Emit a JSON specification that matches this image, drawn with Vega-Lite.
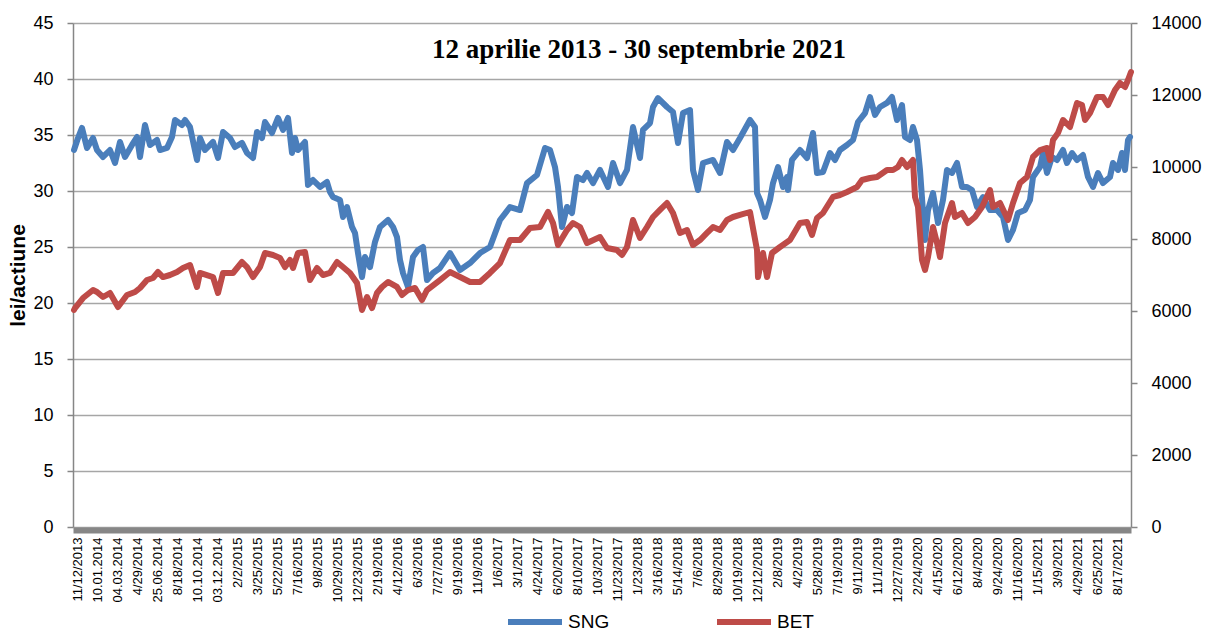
{
  "$schema": "https://vega.github.io/schema/vega-lite/v6.json",
  "width": 1058,
  "height": 504,
  "autosize": {"type": "none"},
  "padding": {"left": 73, "top": 23, "right": 77, "bottom": 107},
  "background": "white",
  "config": {"view": {"stroke": null}, "font": "Liberation Sans"},
  "title": {
    "text": "12 aprilie 2013 - 30 septembrie 2021",
    "font": "Liberation Serif",
    "fontSize": 27,
    "fontWeight": "bold",
    "color": "black",
    "anchor": "middle",
    "frame": "group",
    "orient": "top",
    "offset": 0,
    "dx": 37,
    "dy": 71,
    "baseline": "alphabetic"
  },
  "datasets": {
    "sng": [
      {"t": -0.15, "v": 33.66}, {"t": -0.1, "v": 33.93}, {"t": 0.05, "v": 34.73}, {"t": 0.25, "v": 35.63},
      {"t": 0.5, "v": 33.84}, {"t": 0.8, "v": 34.73}, {"t": 1.0, "v": 33.66}, {"t": 1.3, "v": 33.04},
      {"t": 1.65, "v": 33.66}, {"t": 1.9, "v": 32.5}, {"t": 2.15, "v": 34.38}, {"t": 2.4, "v": 33.04},
      {"t": 2.75, "v": 34.11}, {"t": 3.0, "v": 34.82}, {"t": 3.15, "v": 33.04}, {"t": 3.4, "v": 35.89},
      {"t": 3.65, "v": 34.11}, {"t": 4.0, "v": 34.55}, {"t": 4.15, "v": 33.66}, {"t": 4.5, "v": 33.84},
      {"t": 4.75, "v": 34.82}, {"t": 4.9, "v": 36.34}, {"t": 5.25, "v": 35.89}, {"t": 5.4, "v": 36.34},
      {"t": 5.65, "v": 35.71}, {"t": 6.0, "v": 32.77}, {"t": 6.15, "v": 34.73}, {"t": 6.4, "v": 33.66},
      {"t": 6.8, "v": 34.38}, {"t": 7.05, "v": 32.95}, {"t": 7.3, "v": 35.27}, {"t": 7.65, "v": 34.73},
      {"t": 7.9, "v": 33.93}, {"t": 8.25, "v": 34.29}, {"t": 8.5, "v": 33.39}, {"t": 8.8, "v": 32.95},
      {"t": 9.0, "v": 35.27}, {"t": 9.25, "v": 34.73}, {"t": 9.4, "v": 36.16}, {"t": 9.75, "v": 35.18},
      {"t": 10.05, "v": 36.52}, {"t": 10.3, "v": 35.45}, {"t": 10.55, "v": 36.52}, {"t": 10.75, "v": 33.39},
      {"t": 10.9, "v": 34.73}, {"t": 11.05, "v": 33.66}, {"t": 11.4, "v": 34.38}, {"t": 11.55, "v": 30.54},
      {"t": 11.8, "v": 30.98}, {"t": 12.15, "v": 30.36}, {"t": 12.5, "v": 30.8}, {"t": 12.65, "v": 29.91},
      {"t": 12.8, "v": 29.46}, {"t": 13.15, "v": 29.2}, {"t": 13.3, "v": 27.68}, {"t": 13.5, "v": 28.57},
      {"t": 13.75, "v": 26.79}, {"t": 13.9, "v": 26.25}, {"t": 14.05, "v": 24.46}, {"t": 14.25, "v": 22.32},
      {"t": 14.4, "v": 24.11}, {"t": 14.65, "v": 23.21}, {"t": 14.9, "v": 25.45}, {"t": 15.15, "v": 26.79},
      {"t": 15.55, "v": 27.41}, {"t": 15.8, "v": 26.79}, {"t": 16.0, "v": 25.89}, {"t": 16.15, "v": 23.84},
      {"t": 16.3, "v": 22.68}, {"t": 16.55, "v": 21.43}, {"t": 16.8, "v": 24.11}, {"t": 17.05, "v": 24.73},
      {"t": 17.3, "v": 25.0}, {"t": 17.5, "v": 22.05}, {"t": 17.8, "v": 22.68}, {"t": 18.15, "v": 23.13},
      {"t": 18.65, "v": 24.46}, {"t": 19.15, "v": 22.95}, {"t": 19.65, "v": 23.57}, {"t": 20.15, "v": 24.46},
      {"t": 20.65, "v": 25.0}, {"t": 21.15, "v": 27.41}, {"t": 21.65, "v": 28.57}, {"t": 22.15, "v": 28.3},
      {"t": 22.5, "v": 30.71}, {"t": 23.0, "v": 31.43}, {"t": 23.4, "v": 33.84}, {"t": 23.65, "v": 33.66},
      {"t": 23.9, "v": 32.14}, {"t": 24.05, "v": 30.36}, {"t": 24.25, "v": 26.79}, {"t": 24.5, "v": 28.57},
      {"t": 24.75, "v": 28.04}, {"t": 25.0, "v": 31.25}, {"t": 25.3, "v": 30.98}, {"t": 25.5, "v": 31.61},
      {"t": 25.8, "v": 30.71}, {"t": 26.15, "v": 31.88}, {"t": 26.55, "v": 30.36}, {"t": 26.8, "v": 32.5},
      {"t": 27.15, "v": 30.71}, {"t": 27.5, "v": 31.88}, {"t": 27.8, "v": 35.71}, {"t": 28.15, "v": 32.95},
      {"t": 28.3, "v": 35.45}, {"t": 28.65, "v": 36.07}, {"t": 28.8, "v": 37.5}, {"t": 29.05, "v": 38.3},
      {"t": 29.5, "v": 37.5}, {"t": 29.8, "v": 37.05}, {"t": 30.05, "v": 34.29}, {"t": 30.3, "v": 36.96},
      {"t": 30.65, "v": 37.23}, {"t": 30.8, "v": 31.88}, {"t": 31.05, "v": 30.09}, {"t": 31.3, "v": 32.5},
      {"t": 31.8, "v": 32.77}, {"t": 32.15, "v": 31.61}, {"t": 32.5, "v": 34.38}, {"t": 32.8, "v": 33.66},
      {"t": 33.15, "v": 34.73}, {"t": 33.65, "v": 36.34}, {"t": 33.9, "v": 35.71}, {"t": 34.0, "v": 29.82},
      {"t": 34.15, "v": 29.2}, {"t": 34.4, "v": 27.68}, {"t": 34.65, "v": 29.2}, {"t": 34.8, "v": 30.71},
      {"t": 35.05, "v": 32.14}, {"t": 35.3, "v": 30.36}, {"t": 35.5, "v": 31.25}, {"t": 35.55, "v": 30.09},
      {"t": 35.75, "v": 32.77}, {"t": 36.15, "v": 33.66}, {"t": 36.5, "v": 32.95}, {"t": 36.8, "v": 35.18},
      {"t": 37.0, "v": 31.61}, {"t": 37.3, "v": 31.7}, {"t": 37.65, "v": 33.39}, {"t": 37.9, "v": 32.77},
      {"t": 38.15, "v": 33.66}, {"t": 38.5, "v": 34.11}, {"t": 38.8, "v": 34.55}, {"t": 39.05, "v": 36.16},
      {"t": 39.4, "v": 36.96}, {"t": 39.65, "v": 38.39}, {"t": 39.9, "v": 36.79}, {"t": 40.15, "v": 37.5},
      {"t": 40.5, "v": 37.86}, {"t": 40.75, "v": 38.39}, {"t": 41.0, "v": 36.34}, {"t": 41.25, "v": 37.68},
      {"t": 41.4, "v": 34.82}, {"t": 41.65, "v": 34.55}, {"t": 41.8, "v": 35.71}, {"t": 42.0, "v": 34.55},
      {"t": 42.15, "v": 31.88}, {"t": 42.4, "v": 25.63}, {"t": 42.55, "v": 28.3}, {"t": 42.8, "v": 29.82},
      {"t": 43.05, "v": 27.14}, {"t": 43.3, "v": 29.2}, {"t": 43.5, "v": 31.88}, {"t": 43.75, "v": 31.61},
      {"t": 44.0, "v": 32.5}, {"t": 44.25, "v": 30.36}, {"t": 44.5, "v": 30.36}, {"t": 44.75, "v": 30.09},
      {"t": 45.0, "v": 28.57}, {"t": 45.3, "v": 29.46}, {"t": 45.65, "v": 28.3}, {"t": 46.0, "v": 28.3},
      {"t": 46.3, "v": 27.68}, {"t": 46.55, "v": 25.63}, {"t": 46.8, "v": 26.52}, {"t": 47.05, "v": 28.04},
      {"t": 47.4, "v": 28.3}, {"t": 47.65, "v": 29.2}, {"t": 47.8, "v": 31.25}, {"t": 48.15, "v": 32.14},
      {"t": 48.3, "v": 33.39}, {"t": 48.5, "v": 31.61}, {"t": 48.75, "v": 33.04}, {"t": 49.0, "v": 32.77},
      {"t": 49.3, "v": 33.66}, {"t": 49.5, "v": 32.5}, {"t": 49.75, "v": 33.39}, {"t": 50.0, "v": 32.77},
      {"t": 50.3, "v": 33.21}, {"t": 50.55, "v": 31.25}, {"t": 50.8, "v": 30.36}, {"t": 51.05, "v": 31.61},
      {"t": 51.3, "v": 30.71}, {"t": 51.65, "v": 31.25}, {"t": 51.8, "v": 32.5}, {"t": 52.05, "v": 31.88},
      {"t": 52.25, "v": 33.39}, {"t": 52.4, "v": 31.88}, {"t": 52.55, "v": 34.55}, {"t": 52.65, "v": 34.82}
    ],
    "bet": [
      {"t": -0.15, "v": 6028}, {"t": -0.1, "v": 6083}, {"t": 0.3, "v": 6361}, {"t": 0.8, "v": 6583},
      {"t": 1.0, "v": 6528}, {"t": 1.3, "v": 6389}, {"t": 1.65, "v": 6500}, {"t": 2.05, "v": 6111},
      {"t": 2.5, "v": 6444}, {"t": 2.9, "v": 6528}, {"t": 3.15, "v": 6639}, {"t": 3.5, "v": 6861},
      {"t": 3.8, "v": 6917}, {"t": 4.05, "v": 7083}, {"t": 4.3, "v": 6944}, {"t": 4.65, "v": 7000},
      {"t": 5.0, "v": 7083}, {"t": 5.3, "v": 7194}, {"t": 5.65, "v": 7278}, {"t": 6.0, "v": 6667},
      {"t": 6.15, "v": 7056}, {"t": 6.8, "v": 6944}, {"t": 7.05, "v": 6500}, {"t": 7.3, "v": 7056},
      {"t": 7.8, "v": 7056}, {"t": 8.25, "v": 7361}, {"t": 8.5, "v": 7222}, {"t": 8.8, "v": 6944},
      {"t": 9.15, "v": 7222}, {"t": 9.4, "v": 7611}, {"t": 9.8, "v": 7556}, {"t": 10.15, "v": 7472},
      {"t": 10.4, "v": 7222}, {"t": 10.65, "v": 7417}, {"t": 10.8, "v": 7194}, {"t": 11.05, "v": 7611},
      {"t": 11.4, "v": 7639}, {"t": 11.65, "v": 6861}, {"t": 12.0, "v": 7194}, {"t": 12.3, "v": 7000},
      {"t": 12.65, "v": 7056}, {"t": 13.0, "v": 7361}, {"t": 13.3, "v": 7222}, {"t": 13.65, "v": 7056},
      {"t": 14.0, "v": 6778}, {"t": 14.25, "v": 6028}, {"t": 14.5, "v": 6389}, {"t": 14.75, "v": 6083},
      {"t": 15.0, "v": 6500}, {"t": 15.25, "v": 6667}, {"t": 15.55, "v": 6806}, {"t": 16.0, "v": 6667},
      {"t": 16.25, "v": 6444}, {"t": 16.55, "v": 6583}, {"t": 16.9, "v": 6639}, {"t": 17.25, "v": 6306},
      {"t": 17.5, "v": 6583}, {"t": 18.15, "v": 6861}, {"t": 18.65, "v": 7083}, {"t": 19.15, "v": 6944},
      {"t": 19.65, "v": 6806}, {"t": 20.15, "v": 6806}, {"t": 20.65, "v": 7056}, {"t": 21.15, "v": 7333},
      {"t": 21.65, "v": 7972}, {"t": 22.15, "v": 7972}, {"t": 22.65, "v": 8306}, {"t": 23.15, "v": 8333},
      {"t": 23.55, "v": 8750}, {"t": 23.8, "v": 8444}, {"t": 24.05, "v": 7833}, {"t": 24.5, "v": 8250},
      {"t": 24.8, "v": 8444}, {"t": 25.15, "v": 8333}, {"t": 25.5, "v": 7889}, {"t": 26.15, "v": 8056},
      {"t": 26.5, "v": 7750}, {"t": 27.0, "v": 7694}, {"t": 27.25, "v": 7556}, {"t": 27.5, "v": 7778},
      {"t": 27.8, "v": 8528}, {"t": 28.15, "v": 8028}, {"t": 28.5, "v": 8333}, {"t": 28.8, "v": 8611},
      {"t": 29.15, "v": 8806}, {"t": 29.5, "v": 9000}, {"t": 29.8, "v": 8722}, {"t": 30.15, "v": 8167},
      {"t": 30.5, "v": 8250}, {"t": 30.8, "v": 7833}, {"t": 31.15, "v": 7972}, {"t": 31.5, "v": 8167},
      {"t": 31.8, "v": 8333}, {"t": 32.15, "v": 8250}, {"t": 32.5, "v": 8528}, {"t": 32.8, "v": 8611},
      {"t": 33.15, "v": 8667}, {"t": 33.65, "v": 8750}, {"t": 34.0, "v": 7694}, {"t": 34.05, "v": 6944},
      {"t": 34.3, "v": 7611}, {"t": 34.5, "v": 6944}, {"t": 34.75, "v": 7611}, {"t": 35.15, "v": 7778},
      {"t": 35.65, "v": 7972}, {"t": 36.15, "v": 8444}, {"t": 36.5, "v": 8472}, {"t": 36.75, "v": 8111},
      {"t": 37.0, "v": 8583}, {"t": 37.3, "v": 8722}, {"t": 37.8, "v": 9167}, {"t": 38.15, "v": 9222},
      {"t": 38.5, "v": 9306}, {"t": 39.0, "v": 9444}, {"t": 39.25, "v": 9639}, {"t": 39.65, "v": 9694},
      {"t": 40.0, "v": 9722}, {"t": 40.5, "v": 9917}, {"t": 40.8, "v": 9917}, {"t": 41.05, "v": 10000},
      {"t": 41.25, "v": 10194}, {"t": 41.5, "v": 10000}, {"t": 41.8, "v": 10194}, {"t": 41.9, "v": 9167},
      {"t": 42.05, "v": 8889}, {"t": 42.25, "v": 7417}, {"t": 42.4, "v": 7139}, {"t": 42.55, "v": 7500},
      {"t": 42.8, "v": 8333}, {"t": 43.0, "v": 7889}, {"t": 43.15, "v": 7500}, {"t": 43.4, "v": 8444},
      {"t": 43.75, "v": 9000}, {"t": 43.9, "v": 8611}, {"t": 44.25, "v": 8722}, {"t": 44.55, "v": 8444},
      {"t": 44.9, "v": 8611}, {"t": 45.25, "v": 8889}, {"t": 45.65, "v": 9361}, {"t": 45.8, "v": 8889},
      {"t": 46.15, "v": 9000}, {"t": 46.55, "v": 8528}, {"t": 46.8, "v": 9000}, {"t": 47.15, "v": 9556},
      {"t": 47.5, "v": 9722}, {"t": 47.8, "v": 10278}, {"t": 48.15, "v": 10472}, {"t": 48.5, "v": 10528},
      {"t": 48.65, "v": 10194}, {"t": 48.8, "v": 10750}, {"t": 49.05, "v": 10944}, {"t": 49.3, "v": 11306},
      {"t": 49.65, "v": 11111}, {"t": 50.0, "v": 11778}, {"t": 50.25, "v": 11722}, {"t": 50.4, "v": 11306},
      {"t": 50.65, "v": 11500}, {"t": 51.0, "v": 11944}, {"t": 51.3, "v": 11944}, {"t": 51.55, "v": 11722},
      {"t": 51.9, "v": 12139}, {"t": 52.15, "v": 12333}, {"t": 52.4, "v": 12222}, {"t": 52.55, "v": 12417},
      {"t": 52.7, "v": 12639}
    ]
  },
  "encoding": {
    "x": {
      "field": "t",
      "type": "quantitative",
      "scale": {"domain": [-0.2, 52.7], "nice": false, "zero": false},
      "axis": {
        "title": null,
        "values": [0,1,2,3,4,5,6,7,8,9,10,11,12,13,14,15,16,17,18,19,20,21,22,23,24,25,26,27,28,29,30,31,32,33,34,35,36,37,38,39,40,41,42,43,44,45,46,47,48,49,50,51,52],
        "labelExpr": "['11/12/2013','10.01.2014','04.03.2014','4/29/2014','25.06.2014','8/18/2014','10.10.2014','03.12.2014','2/2/2015','3/25/2015','5/22/2015','7/16/2015','9/8/2015','10/29/2015','12/23/2015','2/19/2016','4/12/2016','6/3/2016','7/27/2016','9/19/2016','11/9/2016','1/6/2017','3/1/2017','4/24/2017','6/20/2017','8/10/2017','10/3/2017','11/23/2017','1/23/2018','3/16/2018','5/14/2018','7/6/2018','8/29/2018','10/19/2018','12/12/2018','2/8/2019','4/2/2019','5/28/2019','7/19/2019','9/11/2019','11/1/2019','12/27/2019','2/24/2020','4/15/2020','6/12/2020','8/4/2020','9/24/2020','11/16/2020','1/15/2021','3/9/2021','4/29/2021','6/25/2021','8/17/2021'][datum.value]",
        "labelAngle": 270,
        "labelAlign": "right",
        "labelBaseline": "middle",
        "labelFontSize": 13,
        "labelColor": "black",
        "labelOverlap": false,
        "labelSeparation": 0,
        "labelBound": false,
        "labelFlush": false,
        "ticks": false,
        "labelPadding": 7,
        "grid": false,
        "domainColor": "#868686",
        "domainWidth": 6,
        "offset": 3
      }
    }
  },
  "layer": [
    {
      "data": {"name": "sng"},
      "mark": {"type": "line", "strokeWidth": 6, "strokeJoin": "round", "strokeCap": "round"},
      "encoding": {
        "y": {
          "field": "v",
          "type": "quantitative",
          "scale": {"domain": [0, 45], "nice": false},
          "axis": {
            "values": [0,5,10,15,20,25,30,35,40,45],
            "grid": true,
            "gridColor": "#A6A6A6",
            "gridWidth": 1.5,
            "domainColor": "#868686",
            "domainWidth": 1.5,
            "tickColor": "#868686",
            "tickSize": 6,
            "tickWidth": 1.5,
            "labelFontSize": 18,
            "labelColor": "black",
            "labelPadding": 14,
            "title": "lei/actiune",
            "titleFontSize": 21,
            "titleFontWeight": "bold",
            "titleColor": "black",
            "titlePadding": 4
          }
        },
        "color": {
          "datum": "SNG",
          "type": "nominal",
          "scale": {"domain": ["SNG", "BET"], "range": ["#4A7EBB", "#BE4B48"]},
          "legend": {
            "orient": "none",
            "legendX": 432,
            "legendY": 569,
            "direction": "horizontal",
            "title": null,
            "symbolType": "stroke",
            "symbolSize": 2916,
            "symbolStrokeWidth": 6,
            "labelFontSize": 19,
            "labelColor": "black",
            "labelOffset": 3,
            "columnPadding": 95
          }
        }
      }
    },
    {
      "data": {"name": "bet"},
      "mark": {"type": "line", "strokeWidth": 6, "strokeJoin": "round", "strokeCap": "round"},
      "encoding": {
        "y": {
          "field": "v",
          "type": "quantitative",
          "scale": {"domain": [0, 14000], "nice": false},
          "axis": {
            "orient": "right",
            "values": [0,2000,4000,6000,8000,10000,12000,14000],
            "format": "d",
            "grid": false,
            "domainColor": "#868686",
            "domainWidth": 1.5,
            "tickColor": "#868686",
            "tickSize": 6,
            "tickWidth": 1.5,
            "labelFontSize": 18,
            "labelColor": "black",
            "labelPadding": 14,
            "title": null
          }
        },
        "color": {"datum": "BET", "type": "nominal"}
      }
    }
  ],
  "resolve": {"scale": {"y": "independent"}}
}
